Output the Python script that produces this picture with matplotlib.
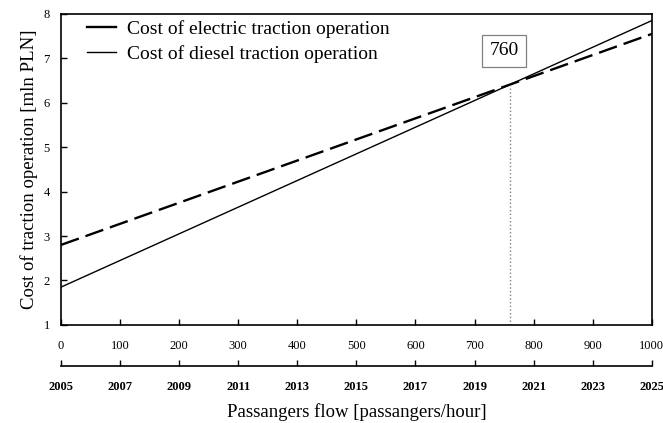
import matplotlib.pyplot as plt
import numpy as np

plt.rcParams['font.family'] = ['Liberation Serif', 'DejaVu Serif']

flow = [0, 1000]
electric_cost = [2.8, 7.55]
diesel_cost = [1.85, 7.85]
break_even = 760
flow_ticks = list(range(0, 1001, 100))
year_ticks = list(range(2005, 2026, 2))

fig = plt.figure(figsize=(6.63, 4.23), dpi=100)
ax = fig.add_axes([0.092, 0.232, 0.891, 0.735])

ax.plot(flow, electric_cost, color='black', lw=1.7, ls=(0, (8, 3)),
        label="Cost of electric traction operation")
ax.plot(flow, diesel_cost, color='black', lw=1.0,
        label="Cost of diesel traction operation")

cross = np.interp(break_even, flow, electric_cost)
ax.plot([break_even, break_even], [1, cross], color='gray', lw=1.0, ls=':')
ax.text(750, 7.17, str(break_even), fontsize=14, ha='center', va='center',
        bbox=dict(boxstyle='square,pad=0.4', fc='white', ec='gray', lw=0.9))

ax.set_xlim(0, 1000)
ax.set_ylim(1, 8)
ax.set_xticks(flow_ticks)
ax.set_yticks(range(1, 9))
ax.tick_params(direction='in', length=4, labelsize=9, width=1)
ax.tick_params(axis='x', pad=11)
ax.tick_params(axis='y', pad=8)
for s in ax.spines.values():
    s.set_linewidth(1.2)

ax.set_ylabel("Cost of traction operation [mln PLN]", fontsize=13.5, labelpad=4)

years = ax.secondary_xaxis(-0.132, functions=(lambda x: 2005 + x / 50,
                                               lambda y: (y - 2005) * 50))
years.set_xticks(year_ticks)
years.tick_params(direction='in', length=4, labelsize=9, width=1, pad=11)
for lbl in years.get_xticklabels():
    lbl.set_fontweight('bold')
years.spines['bottom'].set_linewidth(1.2)
years.set_xlabel("Passangers flow [passangers/hour]", fontsize=13.5, labelpad=7)

leg = ax.legend(loc='upper left', frameon=False, fontsize=14, handlelength=1.5,
                handletextpad=0.55, borderaxespad=0.0, labelspacing=0.35,
                bbox_to_anchor=(0.031, 1.005))
leg.get_lines()[0].set_linestyle('-')

fig.savefig("out.png", dpi=100)
